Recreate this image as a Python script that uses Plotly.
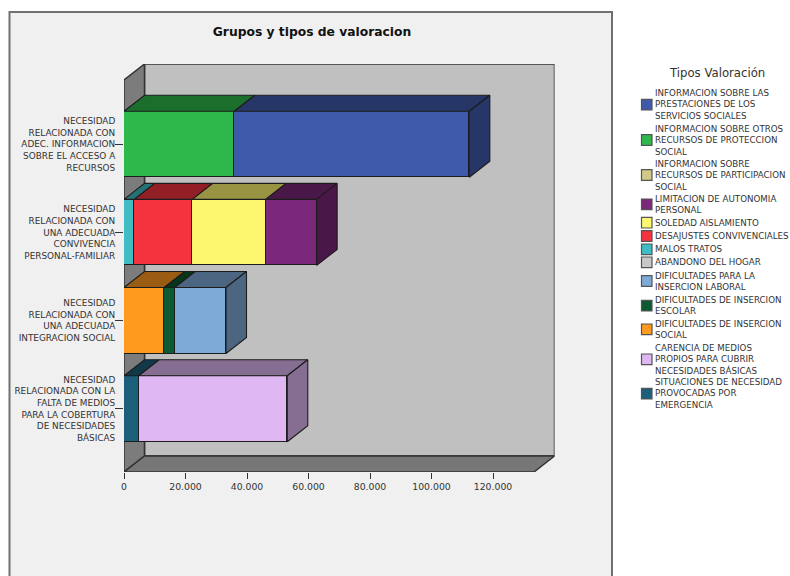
import plotly.graph_objects as go

# ---------- data ----------
CATEGORIES = [
    "NECESIDAD<br>RELACIONADA CON<br>ADEC. INFORMACION<br>SOBRE EL ACCESO A<br>RECURSOS",
    "NECESIDAD<br>RELACIONADA CON<br>UNA ADECUADA<br>CONVIVENCIA<br>PERSONAL-FAMILIAR",
    "NECESIDAD<br>RELACIONADA CON<br>UNA ADECUADA<br>INTEGRACION SOCIAL",
    "NECESIDAD<br>RELACIONADA CON LA<br>FALTA DE MEDIOS<br>PARA LA COBERTURA<br>DE NECESIDADES<br>BÁSICAS",
]
SERIES_NAMES = [
    "INFORMACION SOBRE LAS<br>PRESTACIONES DE LOS<br>SERVICIOS SOCIALES",
    "INFORMACION SOBRE OTROS<br>RECURSOS DE PROTECCION<br>SOCIAL",
    "INFORMACION SOBRE<br>RECURSOS DE PARTICIPACION<br>SOCIAL",
    "LIMITACION DE AUTONOMIA<br>PERSONAL",
    "SOLEDAD AISLAMIENTO",
    "DESAJUSTES CONVIVENCIALES",
    "MALOS TRATOS",
    "ABANDONO DEL HOGAR",
    "DIFICULTADES PARA LA<br>INSERCION LABORAL",
    "DIFICULTADES DE INSERCION<br>ESCOLAR",
    "DIFICULTADES DE INSERCION<br>SOCIAL",
    "CARENCIA DE MEDIOS<br>PROPIOS PARA CUBRIR<br>NECESIDADES BÁSICAS",
    "SITUACIONES DE NECESIDAD<br>PROVOCADAS POR<br>EMERGENCIA",
]
INFO_PRESTACIONES = [76430, 0, 0, 0]
INFO_PROTECCION = [35870, 0, 0, 0]
INFO_PARTICIPACION = [0, 0, 0, 0]
LIMITACION_AUTONOMIA = [0, 16570, 0, 0]
SOLEDAD = [0, 23880, 0, 0]
DESAJUSTES = [0, 18850, 0, 0]
MALOS_TRATOS = [0, 3350, 0, 0]
ABANDONO = [0, 0, 0, 0]
DIF_LABORAL = [0, 0, 16680, 0]
DIF_ESCOLAR = [0, 0, 3390, 0]
DIF_SOCIAL = [0, 0, 13100, 0]
CARENCIA = [0, 0, 0, 48320]
EMERGENCIA = [0, 0, 0, 4780]
SERIES_VALUES = [
    INFO_PRESTACIONES, INFO_PROTECCION, INFO_PARTICIPACION, LIMITACION_AUTONOMIA,
    SOLEDAD, DESAJUSTES, MALOS_TRATOS, ABANDONO, DIF_LABORAL, DIF_ESCOLAR,
    DIF_SOCIAL, CARENCIA, EMERGENCIA,
]
X_TICKS = [0, 20000, 40000, 60000, 80000, 100000, 120000]

# ---------- style ----------
COLORS = ["#3f5aab", "#2eb84b", "#d1c98a", "#7b277a", "#fdf770", "#f5333f", "#3fbcc4",
          "#c8c8c8", "#7eaad8", "#0b5a31", "#ff9a1e", "#dfb8f3", "#1c5f7b"]
W, H = 790, 576
FONT = "DejaVu Sans"
TXT = "#333333"
EDGE = "#1c1c1c"
PX_PER_UNIT = 61.5 / 20000
PX_PER_BAND = 88.15
X0_PX, X1_PX = 124, 554.5      # plot area
Y0_PX, Y1_PX = 64, 472
FIRST_BAND_PX = 144.25
DEPTH_X = 20.5 / PX_PER_UNIT   # depth offset in axis units
DEPTH_Y = 16 / PX_PER_BAND
BAR_W = 66 / PX_PER_BAND
X_MAX = (X1_PX - X0_PX) / PX_PER_UNIT
Y_TOP = (Y0_PX - FIRST_BAND_PX) / PX_PER_BAND
Y_BOT = (Y1_PX - FIRST_BAND_PX) / PX_PER_BAND
Y_FRONT_TOP = Y_TOP + DEPTH_Y
X_FRONT_END = X_MAX - DEPTH_X


def shade(hex_color, f=0.6):
    r, g, b = (int(hex_color[i:i + 2], 16) for i in (1, 3, 5))
    return f"rgb({r * f:.0f},{g * f:.0f},{b * f:.0f})"


def poly(points):
    return "M" + "L".join(f"{x},{y}" for x, y in points) + "Z"


fig = go.Figure()

# stack runs from the last legend entry outwards
positions = list(range(len(CATEGORIES)))
cum = [0] * len(CATEGORIES)
last_seg = {}
faces = []
for idx in reversed(range(len(SERIES_NAMES))):
    vals = SERIES_VALUES[idx]
    fig.add_trace(go.Bar(
        y=positions, x=vals, orientation="h", width=BAR_W,
        name=SERIES_NAMES[idx].replace("<br>", " "),
        marker=dict(color=COLORS[idx], line=dict(color=EDGE, width=1.3)),
        showlegend=False,
    ))
    for p, v in zip(positions, vals):
        if v > 0:
            a, b = cum[p], cum[p] + v
            t = p - BAR_W / 2
            faces.append(([a, b, b + DEPTH_X, a + DEPTH_X, a], [t, t, t - DEPTH_Y, t - DEPTH_Y, t], idx))
            last_seg[p] = (b, t, idx)
            cum[p] = b
for p, (b, t, idx) in last_seg.items():
    bot = t + BAR_W
    faces.append(([b, b + DEPTH_X, b + DEPTH_X, b, b], [t, t - DEPTH_Y, bot - DEPTH_Y, bot, t], idx))
for xs, ys, idx in faces:
    fig.add_trace(go.Scatter(
        x=xs, y=ys, mode="lines", fill="toself", fillcolor=shade(COLORS[idx]),
        line=dict(color=EDGE, width=1.1), hoverinfo="skip", showlegend=False,
    ))

shapes = [
    dict(type="rect", xref="paper", yref="paper", x0=9.5 / W, x1=612 / W, y0=-0.05, y1=1 - 12 / H,
         fillcolor="#f0f0f0", line=dict(color="#707070", width=2), layer="below"),
    # back wall
    dict(type="path", xref="x", yref="y", layer="below", fillcolor="#c0c0c0",
         path=poly([(DEPTH_X, Y_TOP), (X_MAX, Y_TOP), (X_MAX, Y_BOT - DEPTH_Y), (DEPTH_X, Y_BOT - DEPTH_Y)]),
         line=dict(color="#333333", width=1.5)),
    # left wall
    dict(type="path", xref="x", yref="y", layer="below", fillcolor="#7c7c7c",
         path=poly([(0, Y_FRONT_TOP), (DEPTH_X, Y_TOP), (DEPTH_X, Y_BOT - DEPTH_Y), (0, Y_BOT)]),
         line=dict(color="#333333", width=1.5)),
    # floor
    dict(type="path", xref="x", yref="y", layer="below", fillcolor="#777777",
         path=poly([(0, Y_BOT), (X_FRONT_END, Y_BOT), (X_MAX, Y_BOT - DEPTH_Y), (DEPTH_X, Y_BOT - DEPTH_Y)]),
         line=dict(color="#333333", width=1.5)),
]

# legend
LEG_CENTERS = [104.7, 140, 175, 204.3, 222.7, 236, 249.3, 262.3, 281, 305.7, 329.3, 359.3, 393.7]
annotations = [dict(xref="paper", yref="paper", x=717 / W, y=1 - 73 / H, text="Tipos Valoración",
                    showarrow=False, xanchor="center", yanchor="middle",
                    font=dict(family=FONT, size=11.7, color=TXT))]
for name, color, cy in zip(SERIES_NAMES, COLORS, LEG_CENTERS):
    shapes.append(dict(type="rect", xref="paper", yref="paper", x0=641.5 / W, x1=652 / W,
                       y0=1 - (cy + 5.3) / H, y1=1 - (cy - 5.3) / H, fillcolor=color,
                       line=dict(color="#555555", width=1.2)))
    annotations.append(dict(xref="paper", yref="paper", x=654.5 / W, y=1 - cy / H, text=name,
                            showarrow=False, xanchor="left", yanchor="middle", align="left",
                            borderpad=0, borderwidth=0,
                            font=dict(family=FONT, size=8.7, color=TXT)))

fig.update_layout(
    width=W, height=H, margin=dict(l=0, r=0, t=0, b=0, pad=0, autoexpand=False), autosize=False,
    paper_bgcolor="white", plot_bgcolor="rgba(0,0,0,0)",
    barmode="stack", bargap=0, showlegend=False, separators=",.",
    font=dict(family=FONT, color=TXT),
    title=dict(text="<b>Grupos y tipos de valoracion</b>", x=312 / W, xanchor="center",
               y=1 - 32 / H, yanchor="middle", font=dict(family=FONT, size=12.3, color="#111111")),
    xaxis=dict(domain=[X0_PX / W, X1_PX / W], range=[0, X_MAX], tickvals=X_TICKS, tickformat=",d",
               showgrid=False, zeroline=False, showline=False, ticks="outside", ticklen=6,
               tickcolor="#333333", tickwidth=1, tickfont=dict(family=FONT, size=9.3, color=TXT)),
    yaxis=dict(domain=[1 - Y1_PX / H, 1 - Y0_PX / H], range=[Y_BOT, Y_TOP], tickvals=positions,
               ticktext=CATEGORIES, showgrid=False, zeroline=False, showline=False,
               ticks="outside", ticklen=8, tickcolor="#333333", tickwidth=1, ticklabelstandoff=-2,
               tickfont=dict(family=FONT, size=8.9, color=TXT)),
    shapes=shapes, annotations=annotations,
)

fig.write_html("out.html", config={"displayModeBar": False},
               post_script="document.body.style.margin='0';document.body.style.overflow='hidden';")
